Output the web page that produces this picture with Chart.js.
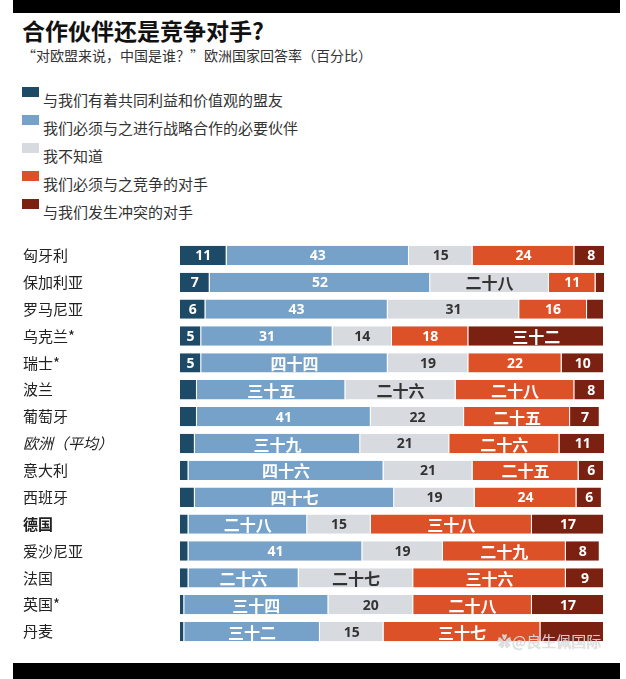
<!DOCTYPE html>
<html lang="zh">
<head>
<meta charset="UTF-8">
<title>合作伙伴还是竞争对手?</title>
<style>
    body { margin: 0; width: 626px; height: 679px; background: #fff; position: relative; overflow: hidden;
           font-family: "Noto Sans CJK SC", "Noto Sans", sans-serif; color: #222; }
    .band { position: absolute; left: 13px; width: 607px; background: #000; }
    #title { position: absolute; left: 22px; top: 19px; font-size: 23px; font-weight: bold; line-height: 1; color: #111; }
    #subtitle { position: absolute; left: 22px; top: 48px; font-size: 14px; line-height: 1; color: #333; }
    #legend { position: absolute; left: 22px; top: 87px; }
    .item { position: relative; height: 28px; }
    .sw { position: absolute; left: 0; top: 0; width: 17px; height: 10px; }
    .lbl { position: absolute; left: 21px; top: 5px; font-size: 15px; line-height: 1; color: #333; white-space: nowrap; }
    #wrap { position: absolute; left: 0; top: 233px; width: 626px; height: 421px; }
    #wm { position: absolute; left: 497px; top: 630px; font-size: 15px; color: rgba(235,235,235,0.8); white-space: nowrap;
          text-shadow: 0 0 1px rgba(120,120,120,0.6); }
</style>
</head>
<body>
<div class="band" style="top:0;height:13px"></div>
<div class="band" style="top:663px;height:16px"></div>
<div id="title">合作伙伴还是竞争对手?</div>
<div id="subtitle">“对欧盟来说，中国是谁？”欧洲国家回答率（百分比）</div>
<div id="legend"></div>
<div id="wrap"><canvas id="chart"></canvas></div>
<div id="wm">✿@良生佩国际</div>

<script src="https://cdn.jsdelivr.net/npm/chart.js"></script>
<script>
    // Data (percent)
    const countries = ['匈牙利', '保加利亚', '罗马尼亚', '乌克兰*', '瑞士*', '波兰', '葡萄牙', '欧洲（平均）',
                       '意大利', '西班牙', '德国', '爱沙尼亚', '法国', '英国*', '丹麦'];
    const seriesNames = ['与我们有着共同利益和价值观的盟友', '我们必须与之进行战略合作的必要伙伴', '我不知道',
                         '我们必须与之竞争的对手', '与我们发生冲突的对手'];
    const allies      = [11, 7, 6, 5, 5, 4, 4, 3.5, 2, 3.5, 2, 2, 2, 1, 1];
    const partners    = [43, 52, 43, 31, 44, 35, 41, 39, 46, 47, 28, 41, 26, 34, 32];
    const dontKnow    = [15, 28, 31, 14, 19, 26, 22, 21, 21, 19, 15, 19, 27, 20, 15];
    const competitors = [24, 11, 16, 18, 22, 28, 25, 26, 25, 24, 38, 29, 36, 28, 37];
    const rivals      = [8, 2.5, 4, 32, 10, 8, 7, 11, 6, 6, 17, 8, 9, 17, 15];

    // Labels as printed in the bars (null = none)
    const alliesText      = ['11', '7', '6', '5', '5', null, null, null, null, null, null, null, null, null, null];
    const partnersText    = ['43', '52', '43', '31', '四十四', '三十五', '41', '三十九', '四十六', '四十七', '二十八', '41', '二十六', '三十四', '三十二'];
    const dontKnowText    = ['15', '二十八', '31', '14', '19', '二十六', '22', '21', '21', '19', '15', '19', '二十七', '20', '15'];
    const competitorsText = ['24', '11', '16', '18', '22', '二十八', '二十五', '二十六', '二十五', '24', '三十八', '二十九', '三十六', '二十八', '三十七'];
    const rivalsText      = ['8', null, null, '三十二', '10', '8', '7', '11', '6', '6', '17', '8', '9', '17', null];

    const colors = ['#1d4a66', '#76a1c9', '#d7dadf', '#dd5128', '#7a2111'];
    const textColors = ['#fff', '#fff', '#333', '#fff', '#fff'];

    // legend
    document.getElementById('legend').innerHTML = seriesNames.map((n, i) =>
        `<div class="item"><div class="sw" style="background:${colors[i]}"></div><div class="lbl">${n}</div></div>`).join('');

    const values = [allies, partners, dontKnow, competitors, rivals];
    const texts = [alliesText, partnersText, dontKnowText, competitorsText, rivalsText];

    const barText = {
        id: 'barText',
        afterDatasetsDraw(chart) {
            const ctx = chart.ctx;
            ctx.save();
            ctx.textAlign = 'center';
            ctx.textBaseline = 'middle';
            chart.data.datasets.forEach((ds, di) => {
                chart.getDatasetMeta(di).data.forEach((bar, i) => {
                    const t = texts[di][i];
                    if (!t) return;
                    const cjk = /[一-龥]/.test(t);
                    ctx.font = cjk ? 'bold 16px "Noto Sans CJK SC", sans-serif'
                                   : 'bold 14px "Noto Sans", "DejaVu Sans", sans-serif';
                    ctx.fillStyle = textColors[di];
                    ctx.fillText(t, (bar.x + bar.base) / 2, bar.y + 1);
                });
            });
            ctx.restore();
        }
    };

    new Chart(document.getElementById('chart'), {
        type: 'bar',
        data: {
            labels: countries,
            datasets: values.map((v, i) => ({
                label: seriesNames[i],
                data: v,
                backgroundColor: colors[i],
                borderColor: '#ffffff',
                borderWidth: { top: 0, bottom: 0, left: 0, right: 1 },
                borderSkipped: false,
                categoryPercentage: 1,
                barPercentage: 0.72
            }))
        },
        options: {
            indexAxis: 'y',
            responsive: true,
            maintainAspectRatio: false,
            animation: false,
            layout: { padding: { left: 23, right: 22, top: 0, bottom: 0 } },
            plugins: { legend: { display: false }, tooltip: { enabled: false } },
            scales: {
                x: { stacked: true, min: 0, max: 100, display: false },
                y: {
                    stacked: true,
                    grid: { display: false },
                    border: { display: false },
                    afterFit(scale) { scale.width = 157; },
                    ticks: {
                        crossAlign: 'far',
                        padding: 0,
                        color: '#222',
                        font: (c) => ({
                            family: '"Noto Sans CJK SC", sans-serif',
                            size: 15,
                            weight: c.index === 10 ? 'bold' : 'normal',
                            style: c.index === 7 ? 'italic' : 'normal'
                        })
                    }
                }
            }
        },
        plugins: [barText]
    });
</script>
</body>
</html>
